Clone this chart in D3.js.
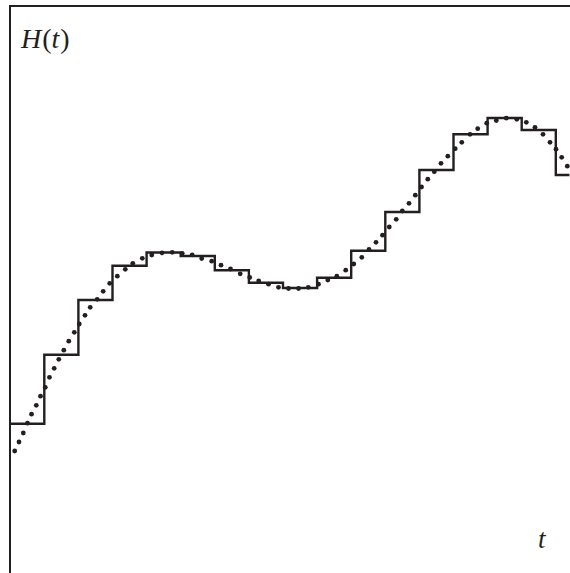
<!DOCTYPE html>
<html>
<head>
<meta charset="utf-8">
<script src="https://cdn.jsdelivr.net/npm/d3@7"></script>
<style>
  html, body { margin: 0; padding: 0; background: #fff; }
  svg { display: block; }
</style>
</head>
<body>
<svg id="chart" width="570" height="573"></svg>
<script>
// Step function H at integer t (held until next step)
const stepT = [0,1,2,3,4,5,6,7,8,9,10,11,12,13,14,15,16];
const stepH = [1.493,2.183,2.73,3.073,3.205,3.17,3.027,2.903,2.85,2.953,3.223,3.61,4.03,4.387,4.55,4.43,3.98];
const tEnd = 16.4;

// Sampled smooth curve (dots)
const dotT = [0.132,0.258,0.384,0.507,0.625,0.765,0.889,1.029,1.152,1.290,1.425,1.572,1.718,1.880,2.026,2.194,2.346,2.551,2.727,2.918,3.141,3.375,3.595,3.874,4.152,4.452,4.751,5.044,5.337,5.616,5.909,6.182,6.460,6.745,7.023,7.287,7.575,7.868,8.161,8.455,8.742,9.041,9.314,9.578,9.839,10.076,10.311,10.522,10.727,10.918,11.117,11.320,11.499,11.695,11.880,12.062,12.246,12.437,12.633,12.833,13.050,13.243,13.484,13.710,13.974,14.255,14.548,14.856,15.135,15.390,15.625,15.830,16.006,16.173,16.337];
const dotH = [1.22,1.31,1.40,1.498,1.588,1.677,1.768,1.857,1.957,2.047,2.137,2.228,2.318,2.407,2.49,2.577,2.657,2.737,2.817,2.897,2.968,3.037,3.097,3.147,3.18,3.202,3.207,3.197,3.182,3.145,3.118,3.078,3.04,2.992,2.955,2.92,2.888,2.857,2.845,2.845,2.857,2.888,2.93,2.968,3.028,3.09,3.157,3.235,3.307,3.378,3.46,3.537,3.62,3.697,3.778,3.86,3.938,4.013,4.097,4.168,4.243,4.307,4.387,4.443,4.498,4.525,4.548,4.537,4.507,4.457,4.387,4.307,4.238,4.157,4.068];

const yLabel = "H(t)";
const xLabel = "t";

const ink = "#231f20";
const svg = d3.select("#chart");

const x = d3.scaleLinear().domain([0, tEnd]).range([10.2, 569.44]);
const y = d3.scaleLinear().domain([0, 5.67]).range([573, 6]);

// frame: top and left lines
svg.append("line").attr("x1", 9).attr("x2", 570).attr("y1", 6).attr("y2", 6)
  .attr("stroke", ink).attr("stroke-width", 2);
svg.append("line").attr("x1", 10).attr("x2", 10).attr("y1", 5).attr("y2", 573)
  .attr("stroke", ink).attr("stroke-width", 2);

// step line
const stepData = stepT.map((t, i) => [t, stepH[i]]);
stepData.push([tEnd, stepH[stepH.length - 1]]);
const line = d3.line().x(d => x(d[0])).y(d => y(d[1])).curve(d3.curveStepAfter);
svg.append("path").datum(stepData).attr("d", line)
  .attr("fill", "none").attr("stroke", ink).attr("stroke-width", 2.4)
  .attr("stroke-linejoin", "miter");

// dots
svg.append("g").selectAll("circle").data(dotT.map((t, i) => [t, dotH[i]]))
  .join("circle")
  .attr("cx", d => x(d[0])).attr("cy", d => y(d[1])).attr("r", 2.4)
  .attr("fill", ink);

// labels
const font = "'Liberation Serif', 'DejaVu Serif', serif";
const yl = svg.append("text").attr("x", 21).attr("y", 48)
  .attr("font-family", font).attr("font-size", 28).attr("fill", ink);
yl.append("tspan").attr("font-style", "italic").text(yLabel[0]);
yl.append("tspan").attr("dx", 1).text(yLabel[1]);
yl.append("tspan").attr("font-style", "italic").text(yLabel[2]);
yl.append("tspan").attr("dx", 1).text(yLabel[3]);

svg.append("text").attr("x", 538).attr("y", 548)
  .attr("font-family", font).attr("font-size", 27).attr("font-style", "italic")
  .attr("fill", ink).text(xLabel);
</script>
</body>
</html>
